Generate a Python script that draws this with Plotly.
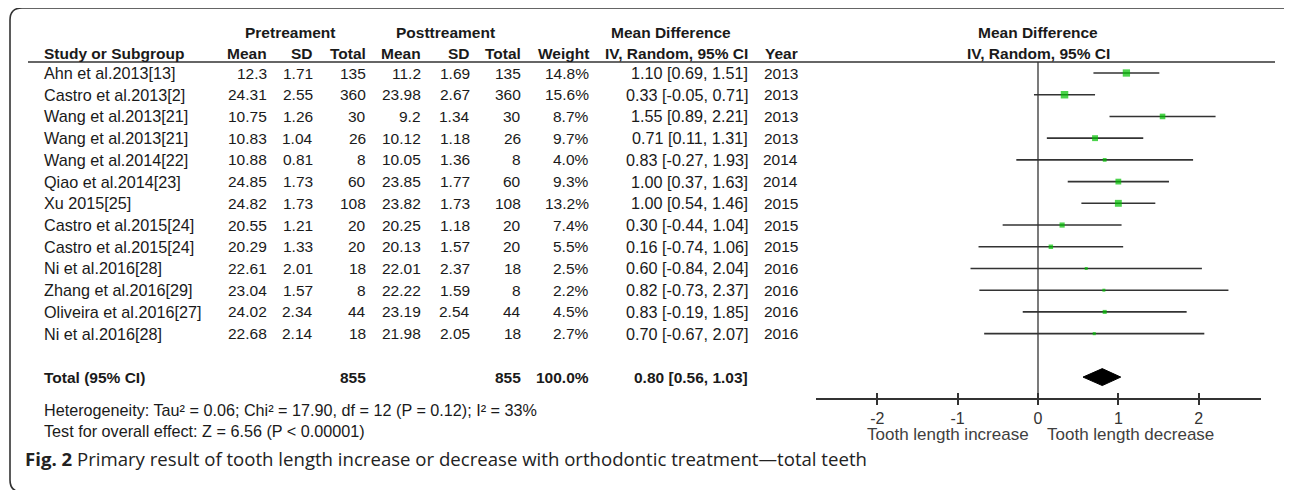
import plotly.graph_objects as go
import math

# ---------------- data ----------------
studies = ["Ahn et al.2013[13]", "Castro et al.2013[2]", "Wang et al.2013[21]", "Wang et al.2013[21]",
           "Wang et al.2014[22]", "Qiao et al.2014[23]", "Xu 2015[25]", "Castro et al.2015[24]",
           "Castro et al.2015[24]", "Ni et al.2016[28]", "Zhang et al.2016[29]",
           "Oliveira et al.2016[27]", "Ni et al.2016[28]"]
pre_mean = ["12.3", "24.31", "10.75", "10.83", "10.88", "24.85", "24.82", "20.55", "20.29", "22.61", "23.04", "24.02", "22.68"]
pre_sd = ["1.71", "2.55", "1.26", "1.04", "0.81", "1.73", "1.73", "1.21", "1.33", "2.01", "1.57", "2.34", "2.14"]
pre_n = [135, 360, 30, 26, 8, 60, 108, 20, 20, 18, 8, 44, 18]
post_mean = ["11.2", "23.98", "9.2", "10.12", "10.05", "23.85", "23.82", "20.25", "20.13", "22.01", "22.22", "23.19", "21.98"]
post_sd = ["1.69", "2.67", "1.34", "1.18", "1.36", "1.77", "1.73", "1.18", "1.57", "2.37", "1.59", "2.54", "2.05"]
post_n = [135, 360, 30, 26, 8, 60, 108, 20, 20, 18, 8, 44, 18]
weight = [14.8, 15.6, 8.7, 9.7, 4.0, 9.3, 13.2, 7.4, 5.5, 2.5, 2.2, 4.5, 2.7]
md = [1.10, 0.33, 1.55, 0.71, 0.83, 1.00, 1.00, 0.30, 0.16, 0.60, 0.82, 0.83, 0.70]
lo = [0.69, -0.05, 0.89, 0.11, -0.27, 0.37, 0.54, -0.44, -0.74, -0.84, -0.73, -0.19, -0.67]
hi = [1.51, 0.71, 2.21, 1.31, 1.93, 1.63, 1.46, 1.04, 1.06, 2.04, 2.37, 1.85, 2.07]
year = [2013, 2013, 2013, 2013, 2014, 2014, 2015, 2015, 2015, 2016, 2016, 2016, 2016]

total_pre_n = 855
total_post_n = 855
total_weight = "100.0%"
total_md, total_lo, total_hi = 0.80, 0.56, 1.03

tick_vals = [-2, -1, 0, 1, 2]
tick_text = ["-2", "-1", "0", "1", "2"]

heterogeneity = "Heterogeneity: Tau² = 0.06; Chi² = 17.90, df = 12 (P = 0.12); I² = 33%"
overall = "Test for overall effect: Z = 6.56 (P < 0.00001)"
caption = "<b>Fig. 2</b> Primary result of tooth length increase or decrease with orthodontic treatment—total teeth"

# ---------------- layout constants ----------------
OFF = 8                      # page body margin of the html page
W, H = 1292 - OFF, 490 - OFF
ROW0_PX, ROW_STEP = 73.0, 21.72
TOTAL_ROW = 14
AXIS_ROW = 15
FONT = "Arial, Liberation Sans, sans-serif"
FS = 15.5
FS_LABEL = 16.2
TXT = "#1a1a1a"
LINE = "#333333"
GREEN = "#00c000"


def px(x):
    return (x - OFF) / W


def py(y):
    return 1 - (y - OFF) / H


rows = list(range(len(studies)))
y_top = (OFF - ROW0_PX) / ROW_STEP
y_bot = (OFF + H - ROW0_PX) / ROW_STEP

fig = go.Figure()

# CI lines
cx, cy = [], []
for r, a, b in zip(rows, lo, hi):
    cx += [a, b, None]
    cy += [r, r, None]
fig.add_trace(go.Scatter(x=cx, y=cy, mode="lines", line=dict(color=LINE, width=1.6),
                         hoverinfo="skip", showlegend=False))

# point estimates
fig.add_trace(go.Scatter(x=md, y=rows, mode="markers",
                         marker=dict(symbol="square", color=GREEN,
                                     size=[max(3.0, 1.9 * math.sqrt(w)) for w in weight],
                                     line=dict(width=0)),
                         hoverinfo="skip", showlegend=False))

# diamond for total
half_h = 0.39
fig.add_trace(go.Scatter(x=[total_lo, total_md, total_hi, total_md, total_lo],
                         y=[TOTAL_ROW, TOTAL_ROW - half_h, TOTAL_ROW, TOTAL_ROW + half_h, TOTAL_ROW],
                         mode="lines", fill="toself", fillcolor="black",
                         line=dict(color="black", width=1), hoverinfo="skip", showlegend=False))

# dummy trace for overlay axis (ticks above the line)
fig.add_trace(go.Scatter(x=[0], y=[AXIS_ROW], xaxis="x2", yaxis="y", mode="markers",
                         marker=dict(opacity=0), hoverinfo="skip", showlegend=False))

ann = []


def add_text(x, y, text, anchor="left", bold=False, yref="y", size=FS, color=TXT, family=FONT):
    ann.append(dict(x=x, y=y, xref="paper", yref=yref, text=f"<b>{text}</b>" if bold else text,
                    showarrow=False, xanchor=anchor, yanchor="middle",
                    font=dict(family=family, size=size, color=color)))


# column right edges (px, reference coordinates)
C_STUDY = 42
C_M1, C_S1, C_N1 = 269, 315, 368
C_M2, C_S2, C_N2 = 423, 472, 523
C_W, C_CI, C_Y = 591, 750, 800

# header
H1, H2 = 32, 53
add_text(px(290), py(H1), "Pretreament", "center", True, "paper")
add_text(px(445), py(H1), "Posttreament", "center", True, "paper")
add_text(px(671), py(H1), "Mean Difference", "center", True, "paper")
add_text(px(1038), py(H1), "Mean Difference", "center", True, "paper")
add_text(px(C_STUDY), py(H2), "Study or Subgroup", "left", True, "paper")
for xx, t in [(C_M1, "Mean"), (C_S1, "SD"), (C_N1, "Total"), (C_M2, "Mean"), (C_S2, "SD"),
              (C_N2, "Total"), (C_W, "Weight"), (C_CI, "IV, Random, 95% CI"), (C_Y, "Year")]:
    add_text(px(xx), py(H2), t, "right", True, "paper")
add_text(px(1038), py(H2), "IV, Random, 95% CI", "center", True, "paper")

# study rows
for r in rows:
    add_text(px(C_STUDY), r, studies[r], size=FS_LABEL)
    add_text(px(C_M1), r, pre_mean[r], "right")
    add_text(px(C_S1), r, pre_sd[r], "right")
    add_text(px(C_N1), r, str(pre_n[r]), "right")
    add_text(px(C_M2), r, post_mean[r], "right")
    add_text(px(C_S2), r, post_sd[r], "right")
    add_text(px(C_N2), r, str(post_n[r]), "right")
    add_text(px(C_W), r, f"{weight[r]:.1f}%", "right")
    add_text(px(C_CI), r, f"{md[r]:.2f} [{lo[r]:.2f}, {hi[r]:.2f}]", "right", size=FS_LABEL)
    add_text(px(C_Y), r, str(year[r]), "right")

# total row
add_text(px(C_STUDY), TOTAL_ROW, "Total (95% CI)", "left", True)
add_text(px(C_N1), TOTAL_ROW, str(total_pre_n), "right", True)
add_text(px(C_N2), TOTAL_ROW, str(total_post_n), "right", True)
add_text(px(C_W), TOTAL_ROW, total_weight, "right", True)
add_text(px(C_CI), TOTAL_ROW, f"{total_md:.2f} [{total_lo:.2f}, {total_hi:.2f}]", "right", True)

add_text(px(C_STUDY), py(410), heterogeneity, "left", False, "paper", size=16.2)
add_text(px(C_STUDY), py(431), overall, "left", False, "paper", size=16.2)

# axis titles
ann.append(dict(x=-0.09, y=py(434), xref="x", yref="paper", text="Tooth length increase",
                showarrow=False, xanchor="right", yanchor="middle",
                font=dict(family=FONT, size=17, color="#404040")))
ann.append(dict(x=0.09, y=py(434), xref="x", yref="paper", text="Tooth length decrease",
                showarrow=False, xanchor="left", yanchor="middle",
                font=dict(family=FONT, size=17, color="#404040")))

# caption
add_text(px(23), py(458), caption, "left", False, "paper", size=18.6, color="#222222",
         family="Open Sans, Noto Sans, sans-serif")

# shapes: header line, zero line, frame
L, R, T, B = px(10), px(1300), py(8), py(492)
rx, ry = 12 / W, 12 / H
frame = (f"M {L+rx},{T} L {R-rx},{T} Q {R},{T} {R},{T-ry} L {R},{B+ry} Q {R},{B} {R-rx},{B} "
         f"L {L+rx},{B} Q {L},{B} {L},{B+ry} L {L},{T-ry} Q {L},{T} {L+rx},{T} Z")
shapes = [
    dict(type="line", xref="paper", yref="paper", x0=px(28), x1=px(1275), y0=py(62), y1=py(62),
         line=dict(color=LINE, width=1.6)),
    dict(type="line", xref="x", yref="paper", x0=0, x1=0, y0=py(62), y1=py(ROW0_PX + AXIS_ROW * ROW_STEP),
         line=dict(color=LINE, width=1.3)),
    dict(type="path", xref="paper", yref="paper", path=frame, line=dict(color="#333333", width=1.6)),
]

axis_px_left, axis_px_right = 816, 1261
zero_px, unit_px = 1038, 80.35
xrange = [(axis_px_left - zero_px) / unit_px, (axis_px_right - zero_px) / unit_px]
axis_pos = py(ROW0_PX + AXIS_ROW * ROW_STEP)

common_x = dict(range=xrange, domain=[px(axis_px_left), px(axis_px_right)], anchor="free",
                position=axis_pos, showgrid=False, zeroline=False, tickvals=tick_vals,
                tickcolor=LINE, tickwidth=1.6, fixedrange=True)

fig.update_layout(
    width=W, height=H, margin=dict(l=0, r=0, t=0, b=0),
    paper_bgcolor="white", plot_bgcolor="rgba(0,0,0,0)",
    xaxis=dict(**common_x, showline=True, linecolor=LINE, linewidth=1.6, ticks="outside", ticklen=5,
               ticktext=tick_text, tickfont=dict(family=FONT, size=16, color="#333333")),
    xaxis2=dict(**common_x, overlaying="x", matches="x", showline=False, ticks="inside", ticklen=6,
                showticklabels=False),
    yaxis=dict(range=[y_bot, y_top], domain=[0, 1], visible=False, fixedrange=True),
    annotations=ann, shapes=shapes, showlegend=False,
)

fig.write_html("out.html")
